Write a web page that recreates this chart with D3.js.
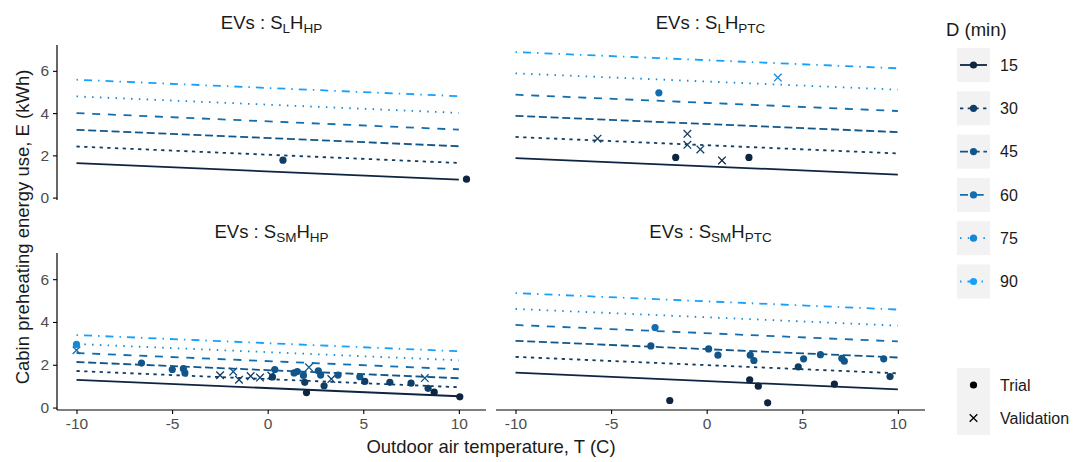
<!DOCTYPE html>
<html><head><meta charset="utf-8">
<script src="https://cdn.jsdelivr.net/npm/d3@7"></script>
<style>body{margin:0;background:#fff}svg{font-family:"Liberation Sans",Arial,sans-serif}</style>
</head><body><svg id="c" width="1077" height="462"></svg>
<script>
// ---------- data ----------
const durations = [15, 30, 45, 60, 75, 90];
const xTicks = [-10, -5, 0, 5, 10];
const yTicks = [0, 2, 4, 6];
const lineT = [-10, 10];
const titleSub1 = ["L", "L", "SM", "SM"];
const titleSub2 = ["HP", "PTC", "HP", "PTC"];
const shapeKinds = ["Trial", "Validation"];

// fitted line E at T=-10 and T=10, one value per duration
const lineStart_SL_HHP  = [1.63, 2.42, 3.21, 4.00, 4.79, 5.58];
const lineEnd_SL_HHP    = [0.85, 1.64, 2.43, 3.22, 4.01, 4.80];
const lineStart_SL_HPTC = [1.87, 2.87, 3.87, 4.87, 5.88, 6.89];
const lineEnd_SL_HPTC   = [1.09, 2.09, 3.10, 4.10, 5.11, 6.12];
const lineStart_SSM_HHP = [1.29, 1.71, 2.13, 2.55, 2.97, 3.39];
const lineEnd_SSM_HHP   = [0.53, 0.95, 1.37, 1.79, 2.21, 2.63];
const lineStart_SSM_HPTC= [1.63, 2.37, 3.12, 3.86, 4.61, 5.35];
const lineEnd_SSM_HPTC  = [0.85, 1.60, 2.34, 3.09, 3.83, 4.58];

// observations: [T, E, D, kind]
const points_SL_HHP = [[0.8,1.77,30,"Trial"],[10.4,0.87,15,"Trial"]];
const points_SL_HPTC = [
 [3.72,5.68,75,"Validation"],[-2.5,4.96,60,"Trial"],[-5.71,2.79,30,"Validation"],
 [-1.01,3.02,30,"Validation"],[-1.01,2.5,30,"Validation"],[-0.33,2.28,30,"Validation"],
 [0.8,1.76,15,"Validation"],[-1.62,1.9,15,"Trial"],[2.21,1.9,15,"Trial"]];
const points_SSM_HHP = [
 [-10,2.95,75,"Trial"],[-10,2.68,60,"Validation"],[-6.6,2.08,45,"Trial"],[-4.99,1.78,45,"Trial"],
 [-4.41,1.82,45,"Trial"],[-4.33,1.62,45,"Trial"],[-2.49,1.51,30,"Validation"],[-1.8,1.68,45,"Validation"],
 [-1.5,1.3,30,"Validation"],[-0.89,1.47,30,"Validation"],[-0.4,1.4,30,"Validation"],[0.19,1.5,30,"Validation"],
 [0.25,1.43,30,"Trial"],[0.37,1.78,45,"Trial"],[1.38,1.62,45,"Trial"],[1.55,1.68,45,"Trial"],
 [2.16,1.88,45,"Validation"],[1.87,1.5,45,"Trial"],[1.94,1.18,30,"Trial"],[2.03,0.7,15,"Trial"],
 [2.65,1.72,45,"Trial"],[2.77,1.52,45,"Trial"],[2.95,1.02,30,"Trial"],[3.33,1.33,30,"Validation"],
 [3.68,1.52,45,"Trial"],[4.82,1.44,45,"Trial"],[5.08,1.22,30,"Trial"],[6.39,1.18,30,"Trial"],
 [7.5,1.14,30,"Trial"],[8.22,1.38,45,"Validation"],[8.39,0.9,30,"Trial"],[8.71,0.72,15,"Trial"],
 [10.05,0.5,15,"Trial"]];
const points_SSM_HPTC = [
 [-2.7,3.74,60,"Trial"],[-2.92,2.88,45,"Trial"],[0.1,2.74,45,"Trial"],[0.59,2.45,45,"Trial"],
 [2.28,2.45,45,"Trial"],[2.47,2.2,45,"Trial"],[4.79,1.9,30,"Trial"],[5.07,2.28,45,"Trial"],
 [5.95,2.47,45,"Trial"],[7.07,2.3,45,"Trial"],[7.2,2.17,45,"Trial"],[9.26,2.28,45,"Trial"],
 [9.59,1.45,30,"Trial"],[2.25,1.3,15,"Trial"],[2.7,1.0,15,"Trial"],[6.68,1.1,15,"Trial"],
 [-1.93,0.33,15,"Trial"],[3.19,0.22,15,"Trial"]];

// ---------- layout / style ----------
const panels = [
 {starts: lineStart_SL_HHP, ends: lineEnd_SL_HHP, pts: points_SL_HHP, x0:57, x1:486, y0:45, y1:200, yAxis:true, xAxis:false, tY:29},
 {starts: lineStart_SL_HPTC, ends: lineEnd_SL_HPTC, pts: points_SL_HPTC, x0:496, x1:925, y0:45, y1:200, yAxis:false, xAxis:false, tY:29},
 {starts: lineStart_SSM_HHP, ends: lineEnd_SSM_HHP, pts: points_SSM_HHP, x0:57, x1:486, y0:253, y1:410, yAxis:true, xAxis:true, tY:238},
 {starts: lineStart_SSM_HPTC, ends: lineEnd_SSM_HPTC, pts: points_SSM_HPTC, x0:496, x1:925, y0:253, y1:410, yAxis:false, xAxis:true, tY:238}
];
const dashes = {15:null, 30:"3.3,4.4", 45:"8,3.7", 60:"8,7.7", 75:"1.5,6.3", 90:"1.5,6,8,6"};
const color = d3.scaleLinear().domain([15,90]).range(["#0e2440","#16a0fa"]).interpolate(d3.interpolateRgb);
const tickFmt = d => String(d);   // plain hyphen-minus like the reference

// shared data extents (5% expansion like ggplot)
const allT = [], allE = [];
panels.forEach(p => {
  p.pts.forEach(d => {allT.push(d[0]); allE.push(d[1]);});
  lineT.forEach(t => allT.push(t));
  p.starts.forEach(v => allE.push(v)); p.ends.forEach(v => allE.push(v));
});
const tExt = d3.extent(allT), eExt = d3.extent(allE);
const tPad = (tExt[1]-tExt[0])*0.05, ePad = (eExt[1]-eExt[0])*0.05;
const xDom = [tExt[0]-tPad, tExt[1]+tPad], yDom = [eExt[0]-ePad, eExt[1]+ePad];

const svg = d3.select("#c");

function crossPath(s){return `M${-s},${-s}L${s},${s}M${-s},${s}L${s},${-s}`;}

panels.forEach((p, i) => {
  const x = d3.scaleLinear().domain(xDom).range([p.x0, p.x1]);
  const y = d3.scaleLinear().domain(yDom).range([p.y1, p.y0]);
  const g = svg.append("g");

  // title
  const cx = (p.x0 + p.x1) / 2;
  const t = g.append("text").attr("x", cx).attr("y", p.tY).attr("text-anchor","middle")
    .attr("font-size", 18.5).attr("fill","#1a1a1a");
  t.append("tspan").text("EVs : S");
  t.append("tspan").attr("font-size", 13.5).attr("dy", 4).text(titleSub1[i]);
  t.append("tspan").attr("dy", -4).text("H");
  t.append("tspan").attr("font-size", 13.5).attr("dy", 4).text(titleSub2[i]);

  // lines
  const line = d3.line().x(d => x(d[0])).y(d => y(d[1]));
  durations.forEach((D, k) => {
    g.append("path").attr("d", line([[lineT[0], p.starts[k]], [lineT[1], p.ends[k]]]))
      .attr("fill","none").attr("stroke", color(D)).attr("stroke-width", 1.8)
      .attr("stroke-dasharray", dashes[D]);
  });

  // points
  p.pts.forEach(d => {
    if (d[3] === "Trial") {
      g.append("circle").attr("cx", x(d[0])).attr("cy", y(d[1])).attr("r", 3.6).attr("fill", color(d[2]));
    } else {
      g.append("path").attr("transform", `translate(${x(d[0])},${y(d[1])})`).attr("d", crossPath(3.8))
        .attr("stroke", color(d[2])).attr("stroke-width", 1.3).attr("fill","none");
    }
  });

  // axes
  if (p.yAxis) {
    const ax = g.append("g").attr("transform", `translate(${p.x0},0)`)
      .call(d3.axisLeft(y).tickValues(yTicks).tickSize(4).tickPadding(4).tickFormat(tickFmt));
    ax.select(".domain").attr("d", `M0,${p.y1}V${p.y0}`).attr("stroke","#000").attr("stroke-width",1.2);
    ax.selectAll(".tick line").attr("stroke","#000").attr("stroke-width",1.1);
    ax.selectAll(".tick text").attr("font-size", 15.5).attr("fill","#4d4d4d").attr("font-family",null);
  }
  if (p.xAxis) {
    const ax = g.append("g").attr("transform", `translate(0,${p.y1})`)
      .call(d3.axisBottom(x).tickValues(xTicks).tickSize(4).tickPadding(4).tickFormat(tickFmt));
    ax.select(".domain").attr("d", `M${p.x0},0H${p.x1}`).attr("stroke","#000").attr("stroke-width",1.2);
    ax.selectAll(".tick line").attr("stroke","#000").attr("stroke-width",1.1);
    ax.selectAll(".tick text").attr("font-size", 15.5).attr("fill","#4d4d4d").attr("font-family",null);
  }
});

// axis titles
svg.append("text").attr("x", 491).attr("y", 453).attr("text-anchor","middle")
  .attr("font-size", 18.5).attr("fill","#1a1a1a").text("Outdoor air temperature, T (C)");
svg.append("text").attr("transform","translate(29,227) rotate(-90)").attr("text-anchor","middle")
  .attr("font-size", 18.5).attr("fill","#1a1a1a").text("Cabin preheating energy use, E (kWh)");

// legend: D (min)
const lg = svg.append("g");
lg.append("text").attr("x", 946).attr("y", 36).attr("font-size", 18.5).attr("fill","#1a1a1a").text("D (min)");
durations.forEach((D, k) => {
  const ky = 48 + k * 43.3;
  lg.append("rect").attr("x", 957).attr("y", ky).attr("width", 33).attr("height", 34).attr("fill","#f2f2f2");
  lg.append("line").attr("x1", 960).attr("x2", 987).attr("y1", ky+17).attr("y2", ky+17)
    .attr("stroke", color(D)).attr("stroke-width", 1.8).attr("stroke-dasharray", dashes[D]);
  lg.append("circle").attr("cx", 973.5).attr("cy", ky+17).attr("r", 3.6).attr("fill", color(D));
  lg.append("text").attr("x", 1000).attr("y", ky+17).attr("dy","0.35em").attr("font-size", 16).attr("fill","#1a1a1a").text(D);
});

// legend: shapes
lg.append("rect").attr("x", 957).attr("y", 368).attr("width", 33).attr("height", 67).attr("fill","#f2f2f2");
shapeKinds.forEach((s, k) => {
  const cy = 385 + k * 33;
  if (s === "Trial") lg.append("circle").attr("cx", 973.5).attr("cy", cy).attr("r", 3.6).attr("fill","#000");
  else lg.append("path").attr("transform", `translate(973.5,${cy})`).attr("d", crossPath(3.8)).attr("stroke","#000").attr("stroke-width",1.3);
  lg.append("text").attr("x", 1000).attr("y", cy).attr("dy","0.35em").attr("font-size", 16).attr("fill","#1a1a1a").text(s);
});
</script></body></html>
